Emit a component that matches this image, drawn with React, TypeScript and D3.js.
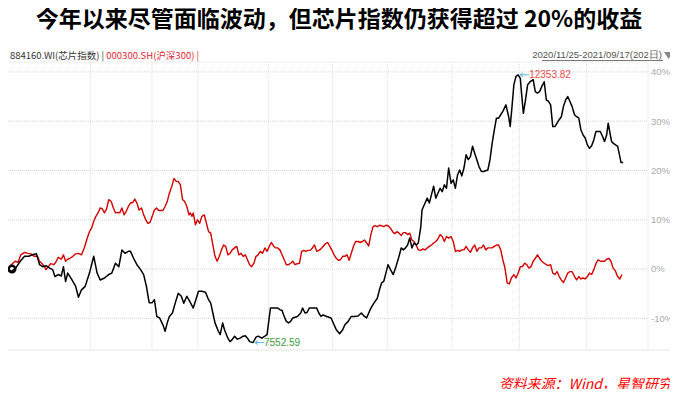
import { useMemo } from 'react';
import * as d3 from 'd3';

const W = 678;
const H = 397;

// trading-day index (0 = 2020/11/25, 201 = 2021/09/17) and cumulative return in %
const chipIndex: [number, number][] = [
  [0, 0.0], [1.1, -0.5], [2.5, 0.2], [4.0, 1.6], [5.4, 2.6], [6.8, 2.6], [7.9, 2.9], [9.3, 3.1], [10.3, 0.9], [11.3, 0.5],
  [12.4, 0.7], [13.6, 0.2], [14.6, -0.1], [15.3, -1.5], [16.4, -1.1], [17.4, -1.4], [18.1, 0.5], [18.8, -2.5], [19.5, -0.8], [20.9, -2.2],
  [22.1, -3.5], [23.0, -5.7], [24.0, -4.2], [25.2, -3.5], [26.6, -0.8], [28.0, 2.6], [29.1, -0.8], [30.1, -2.2], [31.5, -1.8], [32.9, -1.1],
  [33.9, -0.8], [35.1, 1.2], [36.2, 0.5], [37.2, 3.9], [38.2, 3.2], [39.3, 3.6], [40.0, 3.6], [41.0, 2.2], [42.1, 0.9], [43.3, -0.1],
  [44.3, -1.1], [45.2, -3.5], [46.1, -6.8], [47.1, -6.8], [47.8, -6.2], [48.6, -9.6], [49.5, -9.9], [50.6, -11.3], [51.3, -12.6], [52.0, -10.9],
  [52.7, -9.6], [53.7, -8.9], [54.6, -6.9], [55.6, -4.9], [56.6, -5.5], [57.4, -6.9], [58.4, -5.5], [59.4, -6.6], [60.5, -7.9], [61.7, -5.5],
  [62.2, -4.5], [63.3, -4.5], [64.5, -4.7], [65.5, -6.2], [66.2, -6.9], [66.9, -8.9], [67.6, -10.9], [68.7, -12.6], [69.3, -13.3], [70.1, -10.9],
  [70.7, -12.3], [71.8, -14.0], [72.5, -14.7], [73.2, -14.3], [74.0, -13.6], [74.9, -14.2], [75.8, -14.0], [76.8, -13.6], [77.5, -13.5], [78.2, -14.0],
  [78.9, -14.7], [80.0, -14.9], [81.0, -13.8], [81.7, -13.6], [82.9, -14.0], [83.9, -13.6], [84.6, -13.3], [85.7, -7.9], [86.7, -7.9], [88.1, -7.9],
  [88.8, -8.2], [89.5, -8.4], [90.2, -9.6], [90.9, -10.6], [91.6, -10.9], [92.3, -10.6], [93.0, -9.9], [94.5, -9.6], [95.6, -8.9], [96.2, -7.9],
  [97.0, -8.9], [97.6, -8.8], [98.4, -7.9], [99.4, -7.9], [100.8, -7.9], [101.5, -8.9], [102.2, -9.6], [102.9, -9.3], [104.1, -9.6], [105.5, -9.9],
  [106.5, -11.3], [107.2, -12.3], [108.3, -13.1], [109.3, -12.3], [110.0, -11.3], [111.1, -10.6], [112.1, -9.6], [113.1, -9.6], [114.3, -9.5], [115.4, -8.9],
  [116.4, -9.6], [117.1, -9.9], [117.8, -8.9], [118.5, -7.9], [119.6, -6.8], [120.6, -5.9], [121.3, -4.2], [122.0, -2.8], [122.7, -2.5], [123.4, -0.8],
  [124.1, 0.9], [124.9, -0.1], [125.8, -1.1], [126.7, 0.5], [127.7, 2.6], [128.4, 4.3], [129.1, 3.9], [129.8, 4.3], [130.5, 4.9], [131.2, 6.3],
  [131.9, 4.3], [132.6, 5.3], [133.3, 4.9], [134.0, 5.3], [134.8, 8.6], [135.2, 12.0], [136.2, 13.4], [136.9, 14.4], [137.6, 13.4], [138.3, 15.1],
  [139.0, 16.8], [139.7, 14.4], [140.4, 15.4], [141.1, 16.4], [141.8, 15.7], [142.5, 17.1], [143.2, 16.4], [143.9, 20.5], [144.7, 17.4], [145.4, 18.1],
  [146.1, 16.4], [146.8, 19.1], [147.5, 20.1], [148.2, 18.9], [148.9, 20.5], [149.6, 23.2], [150.3, 22.2], [151.0, 22.8], [151.7, 24.9], [152.4, 23.5],
  [153.1, 22.2], [153.8, 20.8], [154.6, 19.8], [155.3, 19.8], [156.7, 20.1], [157.4, 22.2], [158.1, 25.5], [158.8, 28.2], [159.5, 30.6], [160.2, 30.6],
  [160.9, 31.3], [161.6, 32.0], [162.6, 33.3], [163.5, 30.9], [164.0, 28.9], [164.6, 33.0], [165.2, 37.4], [165.9, 39.1], [166.6, 39.4], [167.3, 38.7],
  [167.7, 35.7], [168.3, 31.6], [169.0, 34.3], [169.7, 37.4], [170.5, 38.0], [171.5, 38.4], [172.2, 36.0], [172.9, 35.7], [173.6, 36.0], [174.3, 37.0],
  [175.1, 38.0], [175.8, 34.3], [176.5, 34.0], [177.2, 33.3], [177.9, 28.9], [178.6, 28.9], [179.3, 29.6], [180.0, 30.3], [180.7, 30.9], [181.4, 33.0],
  [182.1, 34.3], [182.8, 35.0], [183.5, 34.0], [184.2, 33.0], [185.0, 31.3], [185.7, 30.9], [186.4, 30.6], [187.1, 28.2], [187.8, 27.2], [188.5, 26.6],
  [189.2, 25.2], [189.9, 24.5], [190.6, 25.0], [191.3, 26.2], [192.0, 27.9], [193.4, 27.9], [194.1, 27.0], [194.8, 25.9], [195.5, 27.2], [196.0, 29.6],
  [196.5, 27.9], [197.1, 25.9], [197.7, 25.5], [198.4, 25.2], [199.1, 24.9], [199.8, 22.8], [200.2, 21.6], [200.9, 21.6],
];

const csi300: [number, number][] = [
  [0, 0.0], [1.1, 0.9], [2.3, 1.6], [3.3, 1.4], [4.2, 2.9], [5.4, 3.4], [6.5, 3.2], [7.5, 3.1], [8.5, 2.6], [9.6, 2.6],
  [10.3, 1.6], [11.0, 1.2], [11.7, 0.7], [12.4, -0.1], [13.2, 0.5], [13.9, 1.1], [15.0, 0.9], [15.6, 1.4], [16.4, 2.4], [17.4, 2.0],
  [18.1, 2.9], [18.8, 1.6], [19.5, 2.0], [20.2, 2.2], [21.2, 2.6], [22.1, 3.1], [23.0, 3.2], [24.0, 2.9], [24.9, 4.3], [25.9, 6.3],
  [26.6, 7.6], [27.3, 8.3], [28.0, 9.7], [28.7, 10.7], [29.4, 11.4], [30.1, 12.4], [30.8, 12.2], [31.5, 11.4], [32.2, 12.2], [32.9, 14.1],
  [33.7, 13.7], [34.4, 12.4], [35.1, 11.4], [35.8, 11.5], [36.5, 11.4], [37.2, 12.4], [37.9, 11.0], [38.6, 11.7], [39.3, 12.7], [40.0, 13.4],
  [40.7, 13.5], [41.4, 14.2], [42.1, 13.4], [42.8, 12.0], [43.6, 12.4], [44.3, 11.0], [45.0, 10.0], [45.7, 9.3], [46.4, 9.5], [47.1, 10.7],
  [47.8, 12.0], [48.5, 12.4], [49.2, 11.9], [49.9, 11.9], [50.6, 11.9], [51.3, 12.7], [52.0, 13.7], [52.7, 15.4], [53.5, 16.8], [54.2, 18.4],
  [54.9, 17.8], [55.6, 17.8], [56.3, 17.1], [57.0, 14.1], [57.7, 13.7], [58.4, 12.7], [59.1, 11.0], [59.5, 11.4], [60.1, 10.7], [60.5, 11.4],
  [61.2, 9.0], [61.9, 10.0], [62.6, 9.3], [63.3, 10.7], [64.1, 11.0], [64.8, 9.3], [65.5, 7.6], [66.2, 7.3], [66.9, 4.9], [67.6, 2.6],
  [68.3, 1.6], [69.0, 2.6], [69.7, 3.9], [70.4, 4.9], [71.1, 4.6], [71.8, 2.9], [72.5, 3.2], [73.2, 3.9], [74.0, 4.3], [74.7, 4.6],
  [75.4, 2.9], [76.1, 3.2], [76.8, 2.6], [77.5, 2.9], [78.2, 1.9], [78.9, 0.9], [79.6, 0.5], [80.3, 1.2], [81.0, 2.6], [81.7, 2.9],
  [82.4, 3.6], [83.1, 3.2], [83.9, 4.3], [84.6, 3.6], [85.3, 4.6], [86.0, 5.4], [86.7, 4.7], [87.4, 4.3], [88.1, 4.3], [88.8, 3.9],
  [89.5, 2.9], [90.2, 1.9], [90.9, 0.9], [91.6, 0.9], [92.3, 1.2], [93.0, 1.6], [93.7, 0.9], [94.5, 1.1], [95.2, 1.2], [95.9, 3.6],
  [96.6, 3.8], [97.3, 3.6], [98.0, 3.8], [98.7, 3.8], [99.4, 4.3], [100.1, 4.9], [100.8, 3.6], [101.5, 3.8], [102.2, 4.1], [102.9, 4.6],
  [103.6, 5.1], [104.4, 5.4], [105.1, 4.6], [105.8, 3.8], [106.5, 2.9], [107.2, 2.2], [107.9, 1.8], [108.6, 1.9], [109.3, 2.6], [110.0, 2.6],
  [110.7, 2.9], [111.4, 1.8], [112.1, 3.2], [112.8, 4.6], [113.5, 5.6], [114.3, 5.6], [115.0, 5.4], [115.7, 5.6], [116.4, 5.9], [117.1, 5.3],
  [117.8, 4.7], [118.5, 7.0], [119.2, 8.6], [119.9, 8.8], [120.6, 8.6], [121.3, 8.9], [122.0, 8.8], [122.7, 8.6], [123.4, 8.9], [124.1, 8.8],
  [124.9, 8.3], [125.6, 7.6], [126.3, 7.2], [127.0, 7.6], [127.7, 7.3], [128.4, 6.8], [129.1, 7.4], [129.8, 7.4], [130.5, 7.0], [131.2, 7.3],
  [131.9, 5.9], [132.6, 5.6], [133.3, 4.9], [134.0, 3.9], [134.8, 3.8], [135.5, 4.1], [136.2, 3.9], [136.9, 4.3], [137.6, 4.6], [138.3, 4.9],
  [139.0, 5.3], [139.7, 5.6], [140.4, 6.1], [141.1, 7.0], [141.8, 6.6], [142.5, 5.6], [143.2, 6.6], [143.9, 6.3], [144.7, 6.6], [145.4, 5.6],
  [146.1, 3.6], [146.8, 3.8], [147.5, 3.6], [148.2, 3.9], [148.9, 3.9], [149.6, 4.6], [150.3, 3.9], [151.0, 3.4], [151.7, 4.3], [152.4, 4.9],
  [153.1, 3.6], [153.8, 4.3], [154.6, 4.3], [155.3, 4.9], [156.0, 3.9], [156.7, 4.3], [158.1, 4.3], [158.8, 4.6], [159.5, 4.9], [160.2, 4.9],
  [160.9, 3.9], [161.6, 1.9], [162.3, 0.2], [163.0, -2.8], [163.7, -3.0], [164.4, -1.8], [165.2, -1.1], [165.9, -1.8], [166.6, -0.8], [167.3, 0.5],
  [168.0, 0.5], [168.7, 1.2], [169.4, 0.9], [170.1, 0.2], [170.8, 0.5], [171.5, 1.6], [172.2, 2.2], [172.9, 2.9], [173.6, 2.2], [174.3, 1.6],
  [175.1, 1.2], [175.8, 0.9], [176.5, 0.7], [177.2, 0.9], [177.9, -0.8], [178.6, -1.1], [179.3, -0.5], [180.0, -1.5], [180.7, -2.2], [181.4, -2.7],
  [182.1, -1.8], [182.8, -0.8], [183.5, -0.5], [184.2, -0.5], [185.0, -1.5], [185.7, -2.2], [186.4, -1.5], [187.1, -2.0], [187.8, -1.8], [188.5, -2.0],
  [189.2, -1.5], [189.9, -0.8], [190.6, -1.1], [191.3, -0.1], [192.0, 1.1], [192.7, 1.9], [193.4, 1.6], [194.1, 1.6], [194.8, 1.6], [195.5, 2.0],
  [196.2, 2.2], [196.9, 1.6], [197.6, 0.2], [198.3, -0.3], [199.0, -1.4], [199.8, -2.0], [200.5, -1.1],
];

const yTicks = [40, 30, 20, 10, 0, -10];
// first trading day of each month (Jan ... Sep 2021)
const monthStartDays = [27, 47, 62, 85, 106, 124, 145, 167, 189];
const maxLabel = '12353.82';
const minLabel = '7552.59';

const FONT = '"Noto Sans CJK SC", "Noto Sans", sans-serif';

export default function App() {
  const x = useMemo(() => d3.scaleLinear().domain([0, 209]).range([8, 648]), []);
  const y = useMemo(() => d3.scaleLinear().domain([-16.4, 42]).range([350, 62]), []);
  const line = d3.line<[number, number]>().x((d) => x(d[0])).y((d) => y(d[1]));

  const peak = chipIndex.reduce((a, b) => (b[1] > a[1] ? b : a));
  const low = chipIndex.reduce((a, b) => (b[1] < a[1] ? b : a));
  const px = x(peak[0]), py = y(peak[1]);
  const lx = x(low[0]), ly = y(low[1]);
  const [x0, x1] = x.range();
  const [yb, yt] = y.range();

  const arrow = (ax: number, ay: number) =>
    `M${ax + 2},${ay}H${ax + 11}M${ax + 2},${ay}l3,-2M${ax + 2},${ay}l3,2`;

  return (
    <svg width={W} height={H} style={{ display: 'block', margin: -8, background: '#fff' }} fontFamily={FONT}>
      <text x={W / 2} y={27} textAnchor="middle" fontSize={23} fontWeight={700} fill="#000">
        今年以来尽管面临波动，但芯片指数仍获得超过 20%的收益
      </text>

      <text x={10} y={59} fontSize={9.5}>
        <tspan fill="#333">884160.WI(芯片指数) | </tspan>
        <tspan fill="#e0262b">000300.SH(沪深300) |</tspan>
      </text>
      <text x={662} y={58} textAnchor="end" fontSize={9.5} fill="#555" fontFamily="'Liberation Sans', Arial, sans-serif">
        2020/11/25-2021/09/17(202日)
      </text>
      <line x1={542} x2={663} y1={60.5} y2={60.5} stroke="#777" strokeWidth={1.2} />
      <path d="M664,52H673L668.5,59Z" fill="#888" />

      {/* grid */}
      <line x1={x0} x2={x1} y1={yt} y2={yt} stroke="#eee" />
      {yTicks.map((t) => (
        <line key={t} x1={x0} x2={x1} y1={y(t)} y2={y(t)} stroke="#d8d8d8" strokeDasharray="1,1" />
      ))}
      {monthStartDays.map((d) => (
        <line key={d} x1={x(d)} x2={x(d)} y1={yt} y2={yb} stroke="#dcdcdc" strokeDasharray="1,1" />
      ))}
      <line x1={x1} x2={x1} y1={yt} y2={yb} stroke="#eee" />
      <line x1={x0} x2={673} y1={yb} y2={yb} stroke="#e6e6e6" />
      {yTicks.map((t) => (
        <text key={t} x={x1 + 3} y={y(t)} dy="0.35em" fontSize={9.5} fill="#aaa" fontFamily="'Liberation Sans', Arial, sans-serif">
          {t}%
        </text>
      ))}

      <path d={line(csi300) ?? ''} fill="none" stroke="#d40000" strokeWidth={1.4} strokeLinejoin="round" />
      <path d={line(chipIndex) ?? ''} fill="none" stroke="#000" strokeWidth={1.5} strokeLinejoin="round" />
      <circle cx={x(0) + 4} cy={y(0)} r={3.3} fill="none" stroke="#000" strokeWidth={2.4} />

      <path d={arrow(px, py)} stroke="#5ab4dc" fill="none" strokeWidth={1} />
      <text x={px + 11} y={py} dy="0.35em" fontSize={10} fill="#ef4a4a" fontFamily="'Liberation Sans', Arial, sans-serif">
        {maxLabel}
      </text>
      <path d={arrow(lx, ly)} stroke="#5ab4dc" fill="none" strokeWidth={1} />
      <text x={lx + 11} y={ly} dy="0.35em" fontSize={10} fill="#3a9a3a" fontFamily="'Liberation Sans', Arial, sans-serif">
        {minLabel}
      </text>

      <text x={672} y={389} textAnchor="end" fontSize={14} fontStyle="italic" fill="#ff0000">
        资料来源：Wind，星智研究
      </text>
    </svg>
  );
}
